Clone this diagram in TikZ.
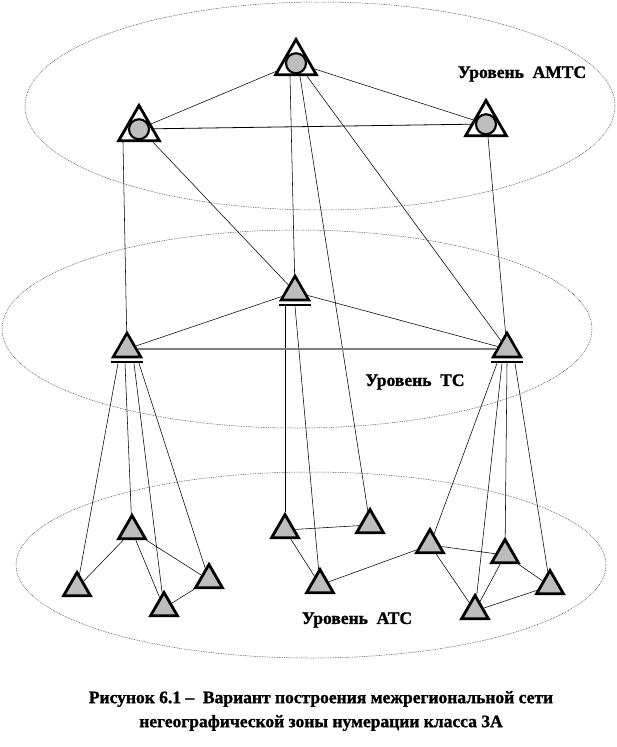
\documentclass[tikz,border=0pt]{standalone}
\usepackage{fontspec}
\setmainfont{Liberation Serif}[BoldFeatures={FakeBold=1.3}]
\usetikzlibrary{shapes.geometric}

\definecolor{nodegray}{gray}{0.74}

\begin{document}
\begin{tikzpicture}[x=1pt,
            y=-1pt,
            line width=0.55pt,
            amts/.style={regular polygon, regular polygon sides=3, draw,
                         line width=2.8pt, fill=white, minimum size=47pt,
                         inner sep=0pt,
                         path picture={\draw[fill=nodegray, line width=2.1pt]
                           ([yshift=11.5pt]path picture bounding box.south)
                           circle (10pt);}},
            tc/.style={regular polygon, regular polygon sides=3, draw,
                       line width=2.6pt, fill=nodegray, minimum size=32pt,
                       inner sep=0pt},
            ats/.style={regular polygon, regular polygon sides=3, draw,
                        line width=2.8pt, fill=nodegray, minimum size=31pt,
                        inner sep=0pt},
            zone/.style={draw=black!75, line width=0.5pt,
                         dash pattern=on 0.8pt off 0.9pt},
            lbl/.style={font=\bfseries\fontsize{17.5}{24}\selectfont}]

    \useasboundingbox (0,0) rectangle (616,747);

    % levels
    \draw[zone] (320,106) ellipse (295 and 104);
    \draw[zone] (297,329) ellipse (295 and 99);
    \draw[zone] (311,565) ellipse (295 and 93);

    \node[lbl] (lamts) at (522,74)  {Уровень~ АМТС};
    \node[lbl] (ltc)   at (415,382) {Уровень~ ТС};
    \node[lbl] (lats)  at (357,620) {Уровень~ АТС};

    % AMTS
    \node[amts] (am1) at (296,63)  {};
    \node[amts] (am2) at (139,129) {};
    \node[amts] (am3) at (486,124) {};

    % TC
    \node[tc]   (tc1) at (295,292) {};
    \node[tc]   (tc2) at (127,349) {};
    \node[tc]   (tc3) at (507,349) {};

    % ATS
    \node[ats]  (at1)  at (132,531) {};
    \node[ats]  (at2)  at (77,588)  {};
    \node[ats]  (at3)  at (209,580) {};
    \node[ats]  (at4)  at (164,608) {};
    \node[ats]  (at5)  at (285,530) {};
    \node[ats]  (at6)  at (370,525) {};
    \node[ats]  (at7)  at (320,585) {};
    \node[ats]  (at8)  at (430,545) {};
    \node[ats]  (at9)  at (505,555) {};
    \node[ats]  (at10) at (550,586) {};
    \node[ats]  (at11) at (475,611) {};

    \path (am1) edge (am2)
                edge (am3)
          ([xshift=-6pt]am1.south) edge (tc1)
          ([xshift=4pt]am1.south)  edge (at6)
          ([xshift=11pt]am1.south) edge (tc3)
          (am2) edge [line width=0.8pt] (am3)
          ([xshift=-16pt]am2.south) edge (tc2)
          ([xshift=14pt]am2.south)  edge (tc1)
          ([xshift=2pt]am3.south)   edge (tc3)
          (tc1) edge (tc2)
                edge (tc3)
          ([xshift=-10pt,yshift=-5pt]tc1.south) edge (at5)
          ([yshift=-5pt]tc1.south)              edge (at7)
          (tc2) edge [draw=black!50, line width=1.3pt] (tc3)
          ([xshift=-9pt,yshift=-5pt]tc2.south)  edge (at2)
          ([xshift=-2pt,yshift=-5pt]tc2.south)  edge (at1)
          ([xshift=7pt,yshift=-5pt]tc2.south)   edge (at4)
          ([xshift=12pt,yshift=-5pt]tc2.south)  edge (at3)
          ([xshift=-10pt,yshift=-5pt]tc3.south) edge (at8)
          ([xshift=-5pt,yshift=-5pt]tc3.south)  edge (at11)
          ([yshift=-5pt]tc3.south)              edge (at9)
          ([xshift=8pt,yshift=-5pt]tc3.south)   edge (at10)
          (at1) edge (at2)
                edge (at3)
                edge (at4)
          (at3) edge (at4)
          (at5) edge (at6)
                edge (at7)
          (at7) edge (at8)
          (at8) edge (at9)
                edge (at11)
          (at9) edge (at11)
                edge (at10)
          (at10) edge (at11);

    \foreach \n in {tc1,tc2,tc3}
        \draw[line width=1.6pt] ([yshift=-3.8pt]\n.corner 2) -- ([yshift=-3.8pt]\n.corner 3);

    \node[lbl, align=center] (caption) at (321,711)
        {Рисунок 6.1 –~ Вариант построения межрегиональной сети\\
         негеографической зоны нумерации класса 3А};

\end{tikzpicture}
\end{document}
